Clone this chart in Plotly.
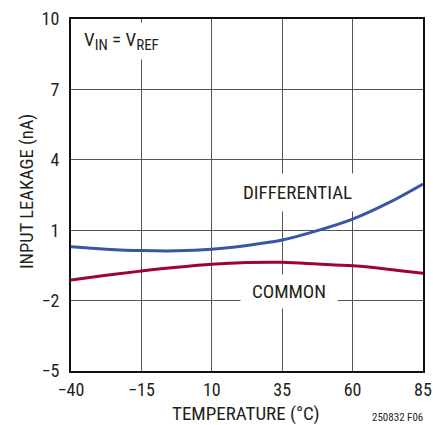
import plotly.graph_objects as go

temperature = [-40, -27.5, -15, -2.5, 10, 22.5, 35, 47.5, 60, 72.5, 85]
differential = [0.29, 0.19, 0.13, 0.12, 0.19, 0.35, 0.58, 0.98, 1.47, 2.15, 2.97]
common = [-1.12, -0.92, -0.74, -0.58, -0.45, -0.38, -0.37, -0.44, -0.52, -0.66, -0.84]
x_ticks = [-40, -15, 10, 35, 60, 85]
y_ticks = [-5, -2, 1, 4, 7, 10]

FONT = "Liberation Sans Narrow, Arial Narrow, Roboto Condensed, sans-serif"
TXT = "#231f20"

W, H = 433, 425
l, r, t, b = 71, 10, 19, 54
pw, ph = W - l - r, H - t - b

def px(x):
    return (x - l) / pw

def py(y):
    return (H - b - y) / ph

fig = go.Figure()
fig.add_trace(go.Scatter(x=temperature, y=differential, mode="lines",
                         line=dict(color="#3a55a5", width=3, shape="spline"),
                         name="DIFFERENTIAL", showlegend=False))
fig.add_trace(go.Scatter(x=temperature, y=common, mode="lines",
                         line=dict(color="#a0032e", width=3, shape="spline"),
                         name="COMMON", showlegend=False))

sub = lambda s: "<sub><span style='font-size:15px'>%s</span></sub>" % s

fig.update_layout(
    width=W, height=H,
    margin=dict(l=l, r=r, t=t, b=b, autoexpand=False),
    paper_bgcolor="white", plot_bgcolor="white",
    font=dict(family=FONT, color=TXT, size=18),
    xaxis=dict(range=[-40, 85], tickvals=x_ticks,
               ticktext=["\u221240", "\u221215", "10", "35", "60", "85"],
               showgrid=True, gridcolor="#555555", gridwidth=1,
               showline=True, mirror=True, linecolor="#111111", linewidth=2,
               zeroline=False, ticks="", ticklabelstandoff=1, automargin=False,
               tickfont=dict(size=18, family=FONT, color=TXT)),
    yaxis=dict(range=[-5, 10], tickvals=y_ticks,
               ticktext=["\u22125", "\u22122", "1", "4", "7", "10"],
               showgrid=True, gridcolor="#555555", gridwidth=1,
               showline=True, mirror=True, linecolor="#111111", linewidth=2,
               zeroline=False, ticks="", ticklabelstandoff=6, automargin=False,
               tickfont=dict(size=18, family=FONT, color=TXT)),
    annotations=[
        dict(text="V" + sub("IN") + " = V" + sub("REF"), x=-37.6, y=9.05, xref="x", yref="y",
             xanchor="left", yanchor="middle", showarrow=False,
             font=dict(size=19, family=FONT, color=TXT),
             bgcolor="white", borderpad=5),
        dict(text="DIFFERENTIAL", x=40.6, y=2.6, xref="x", yref="y",
             xanchor="center", yanchor="middle", showarrow=False,
             font=dict(size=19, family=FONT, color=TXT),
             bgcolor="white", borderpad=7),
        dict(text="COMMON", x=37.4, y=-1.6, xref="x", yref="y",
             xanchor="center", yanchor="middle", showarrow=False,
             font=dict(size=19, family=FONT, color=TXT),
             bgcolor="white", borderpad=5, width=86),
        dict(text="TEMPERATURE (\u00b0C)", x=px(246), y=py(413), xref="paper", yref="paper",
             xanchor="center", yanchor="middle", showarrow=False,
             font=dict(size=19, family=FONT, color=TXT)),
        dict(text="INPUT LEAKAGE (nA)", x=px(27), y=py(192), xref="paper", yref="paper",
             xanchor="center", yanchor="middle", textangle=-90, showarrow=False,
             font=dict(size=18.5, family=FONT, color=TXT)),
        dict(text="250832 F06", x=px(397), y=py(417), xref="paper", yref="paper",
             xanchor="center", yanchor="middle", showarrow=False,
             font=dict(size=11, family=FONT, color=TXT)),
    ],
)

fig.write_html("out.html", config={"displayModeBar": False},
               post_script="document.body.style.margin='0';document.body.style.overflow='hidden';")
